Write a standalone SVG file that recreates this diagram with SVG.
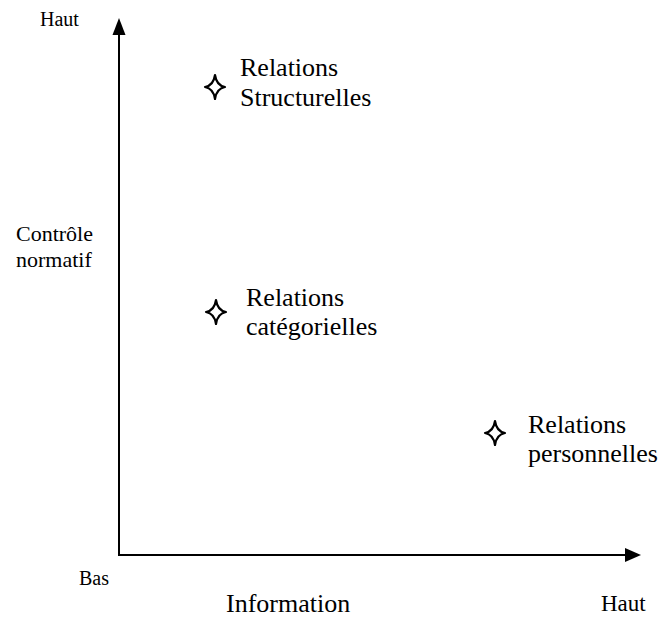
<svg xmlns="http://www.w3.org/2000/svg" width="661" height="618" viewBox="0 0 661 618">
<defs>
<style>
text{font-family:"Liberation Serif","Times New Roman",Times,serif;fill:#000}
.lbl{font-size:26px}
.ax{font-size:22px}
.star{fill:none;stroke:#000;stroke-width:2.2;stroke-linejoin:round}
.axis{stroke:#000;stroke-width:2;fill:none}
</style>
</defs>
<rect width="661" height="618" fill="#fff"/>
<g id="axes">
<line class="axis" x1="119" y1="556" x2="119" y2="32"/>
<polygon points="119,18 112.5,35 125.5,35" fill="#000"/>
<line class="axis" x1="118" y1="555" x2="628" y2="555"/>
<polygon points="641,555 625,548 625,562" fill="#000"/>
</g>
<g id="axis-labels" font-family="Liberation Serif, Times New Roman, serif">
<text class="ax" x="40" y="26" style="font-size:20px">Haut</text>
<text class="ax" x="16" y="241">Contrôle</text>
<text class="ax" x="16" y="267">normatif</text>
<text class="ax" x="79" y="585" style="font-size:20px">Bas</text>
<text class="lbl" x="226" y="612">Information</text>
<text class="ax" x="601" y="611" style="font-size:23px">Haut</text>
</g>
<g id="structurelles" font-family="Liberation Serif, Times New Roman, serif">
<path class="star" d="M215,75 Q216.5,85.5 225,87 Q216.5,88.5 215,99 Q213.5,88.5 205,87 Q213.5,85.5 215,75 Z"/>
<text class="lbl" x="240" y="76">Relations</text>
<text class="lbl" x="240" y="106">Structurelles</text>
</g>
<g id="categorielles" font-family="Liberation Serif, Times New Roman, serif">
<path class="star" d="M216,300 Q217.5,310.5 226,312 Q217.5,313.5 216,324 Q214.5,313.5 206,312 Q214.5,310.5 216,300 Z"/>
<text class="lbl" x="246" y="306">Relations</text>
<text class="lbl" x="246" y="335">catégorielles</text>
</g>
<g id="personnelles" font-family="Liberation Serif, Times New Roman, serif">
<path class="star" d="M495,421 Q496.5,431.5 505,433 Q496.5,434.5 495,445 Q493.5,434.5 485,433 Q493.5,431.5 495,421 Z"/>
<text class="lbl" x="528" y="433">Relations</text>
<text class="lbl" x="528" y="462">personnelles</text>
</g>
</svg>
